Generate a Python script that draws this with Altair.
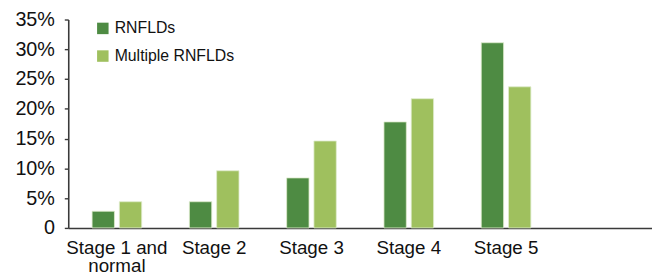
import altair as alt
import pandas as pd

stages = ["Stage 1 and normal", "Stage 2", "Stage 3", "Stage 4", "Stage 5"]
series = ["RNFLDs", "Multiple RNFLDs"]
rnflds = [2.8, 4.4, 8.4, 17.8, 31.1]
multiple = [4.4, 9.6, 14.6, 21.7, 23.7]
colors = ["#4E8B43", "#9FC05E"]

rows = []
for s, a, b in zip(stages, rnflds, multiple):
    rows.append({"stage": s, "series": series[0], "value": a})
    rows.append({"stage": s, "series": series[1], "value": b})
df = pd.DataFrame(rows)

domain = stages + [" "]
FONT = "Liberation Sans"

chart = alt.Chart(df).mark_bar(stroke="#dfeccd", strokeWidth=0.8).encode(
    x=alt.X("stage:N", sort=domain,
            scale=alt.Scale(domain=domain, paddingInner=0.49, paddingOuter=0.245),
            axis=alt.Axis(title=None, labelAngle=0, ticks=False, domainColor="#3a3a3a",
                          domainWidth=1.6, labelFont=FONT, labelFontSize=19, labelColor="#111",
                          labelPadding=11, labelLineHeight=18,
                          labelExpr="datum.value == 'Stage 1 and normal' ? ['Stage 1 and', 'normal'] : datum.value")),
    xOffset=alt.XOffset("series:N", sort=series, scale=alt.Scale(paddingInner=0.18)),
    y=alt.Y("value:Q", scale=alt.Scale(domain=[0, 35]),
            axis=alt.Axis(title=None, values=[0, 5, 10, 15, 20, 25, 30, 35], grid=False,
                          domainColor="#3a3a3a", domainWidth=1.6, tickColor="#3a3a3a",
                          tickSize=4, tickWidth=1.4, labelFont=FONT, labelFontSize=20,
                          labelColor="#111", labelPadding=10,
                          labelExpr="datum.value == 0 ? '0' : datum.value + '%'")),
    color=alt.Color("series:N", sort=series,
                    scale=alt.Scale(domain=series, range=colors),
                    legend=alt.Legend(title=None, orient="none", legendX=27, legendY=1,
                                      symbolType="square", symbolSize=135, symbolStrokeWidth=0,
                                      labelFont=FONT, labelFontSize=16, labelColor="#111",
                                      labelOffset=4, rowPadding=12)),
).properties(
    width=591, height=211,
    autosize=alt.AutoSizeParams(type="none"),
    padding={"left": 61, "top": 10, "right": 0, "bottom": 46},
).configure_view(stroke=None)

chart.save("out.html", embed_options={"renderer": "svg", "actions": False})
